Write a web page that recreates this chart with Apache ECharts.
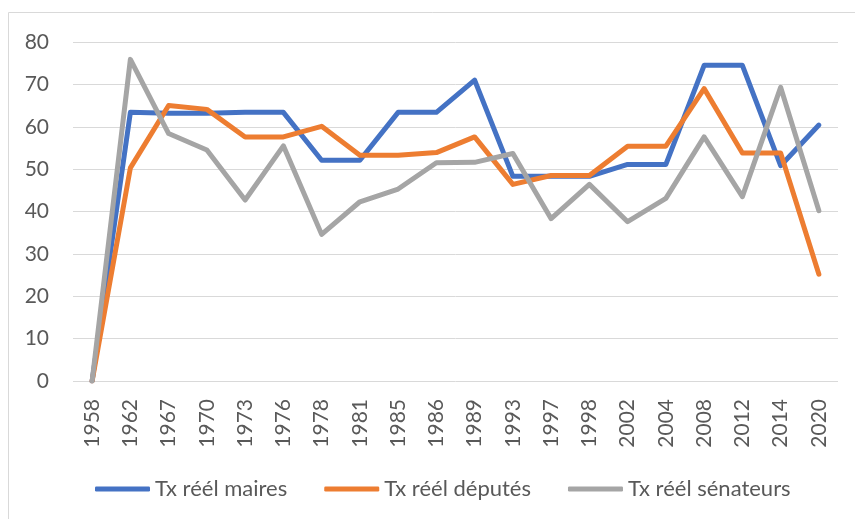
<!DOCTYPE html>
<html>
<head>
<meta charset="utf-8">
<script src="https://cdn.jsdelivr.net/npm/echarts@6/dist/echarts.min.js"></script>
<style>
  html, body { margin: 0; padding: 0; background: #fff; }
  #chart { width: 855px; height: 519px; }
</style>
</head>
<body>
<div id="chart"></div>
<script>
var years = ['1958', '1962', '1967', '1970', '1973', '1976', '1978', '1981', '1985', '1986',
    '1989', '1993', '1997', '1998', '2002', '2004', '2008', '2012', '2014', '2020']
var maires = [0, 63.4, 63.2, 63.2, 63.4, 63.4, 52.1, 52.1, 63.4, 63.4,
    71, 48.3, 48.3, 48.3, 51.1, 51.1, 74.5, 74.5, 50.8, 60.4]
var deputes = [0, 50.3, 65, 64.1, 57.6, 57.6, 60.1, 53.3, 53.3, 53.9,
    57.6, 46.4, 48.5, 48.5, 55.4, 55.4, 69, 53.8, 53.8, 25.2]
var senateurs = [0, 75.9, 58.4, 54.5, 42.7, 55.5, 34.6, 42.3, 45.3, 51.5,
    51.6, 53.7, 38.3, 46.4, 37.6, 43.1, 57.6, 43.5, 69.3, 40.2]
var seriesNames = ['Tx réél maires', 'Tx réél députés', 'Tx réél sénateurs']
var colors = ['#4472C4', '#ED7D31', '#A5A5A5']

var myChart = echarts.init(document.getElementById('chart'))

var makeSeries = function (name, data, color) {
    return {
        name: name,
        type: 'line',
        data: data,
        symbol: 'none',
        lineStyle: { width: 5, color: color, cap: 'round', join: 'round' },
        itemStyle: { color: color }
    }
}

var option = {
    animation: false,
    textStyle: { fontFamily: 'Lato' },
    graphic: [{
        type: 'rect',
        shape: { x: 8.5, y: 12.5, width: 900, height: 600 },
        style: { fill: 'none', stroke: '#d9d9d9', lineWidth: 1 },
        silent: true
    }],
    grid: { left: 73, right: 17, top: 42, bottom: 138 },
    legend: {
        left: 90,
        top: 473,
        icon: 'roundRect',
        itemWidth: 55,
        itemHeight: 5,
        itemGap: 37,
        textStyle: { fontSize: 22, color: '#595959', fontFamily: 'Lato' },
        data: seriesNames
    },
    xAxis: {
        type: 'category',
        data: years,
        boundaryGap: true,
        axisLine: { show: false },
        axisTick: { show: false },
        axisLabel: { rotate: 90, margin: 18, fontSize: 21, color: '#595959', fontFamily: 'Lato' }
    },
    yAxis: {
        type: 'value',
        min: 0,
        max: 80,
        interval: 10,
        axisLine: { show: false },
        axisTick: { show: false },
        axisLabel: { margin: 24, fontSize: 21, color: '#595959', fontFamily: 'Lato' },
        splitLine: { lineStyle: { color: '#d9d9d9', width: 1 } }
    },
    series: [
        makeSeries(seriesNames[0], maires, colors[0]),
        makeSeries(seriesNames[1], deputes, colors[1]),
        makeSeries(seriesNames[2], senateurs, colors[2])
    ]
}
myChart.setOption(option)
</script>
</body>
</html>
